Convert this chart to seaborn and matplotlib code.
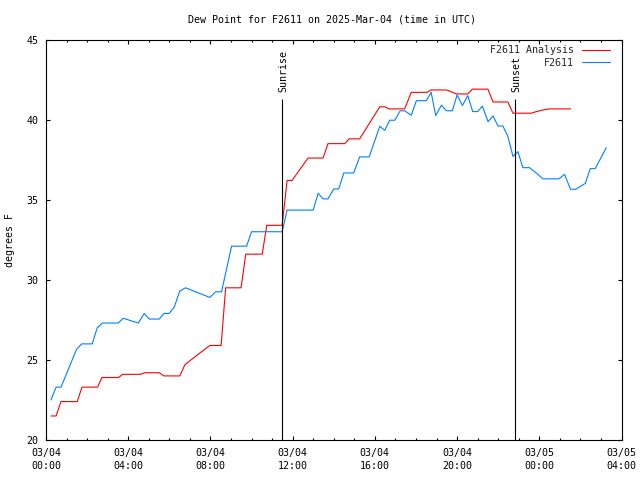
import matplotlib
matplotlib.use("Agg")
import matplotlib.pyplot as plt
import seaborn as sns
import pandas as pd
from matplotlib.ticker import MultipleLocator

# ---- data (hours since 2025-03-04 00:00 UTC) ----
analysis_hours = [0.24, 0.49, 0.73, 1.52, 1.75, 2.51, 2.72, 3.53, 3.73, 4.60,
                  4.80, 5.51, 5.74, 6.51, 6.76, 7.25, 7.97, 8.52, 8.74, 9.49,
                  9.72, 10.52, 10.74, 11.49, 11.73, 11.97, 12.75, 13.48, 13.72, 14.54,
                  14.74, 15.26, 16.24, 16.48, 16.69, 17.45, 17.77, 18.55, 18.72, 19.49,
                  19.97, 20.52, 20.74, 21.50, 21.75, 22.47, 22.72, 23.61, 23.86, 24.18,
                  24.50, 25.52]
analysis_dewpt = [21.5, 21.5, 22.4, 22.4, 23.3, 23.3, 23.9, 23.9, 24.1, 24.1,
                  24.2, 24.2, 24.0, 24.0, 24.7, 25.2, 25.9, 25.9, 29.5, 29.5,
                  31.6, 31.6, 33.4, 33.4, 36.2, 36.2, 37.6, 37.6, 38.5, 38.5,
                  38.8, 38.8, 40.8, 40.8, 40.67, 40.67, 41.7, 41.7, 41.85, 41.85,
                  41.6, 41.6, 41.9, 41.9, 41.1, 41.1, 40.4, 40.4, 40.5, 40.6,
                  40.67, 40.67]

obs_hours = [0.24, 0.49, 0.73, 1.49, 1.74, 2.25, 2.49, 2.74, 3.51, 3.76,
             4.49, 4.78, 5.02, 5.51, 5.74, 5.99, 6.24, 6.51, 6.79, 7.97,
             8.25, 8.54, 9.03, 9.76, 10.0, 11.49, 11.73, 13.0, 13.24, 13.48,
             13.72, 14.0, 14.24, 14.49, 14.97, 15.26, 15.72, 16.24, 16.48, 16.72,
             16.97, 17.23, 17.45, 17.77, 18.02, 18.5, 18.74, 18.96, 19.24, 19.48,
             19.77, 20.0, 20.26, 20.52, 20.76, 21.0, 21.23, 21.51, 21.75, 21.99,
             22.23, 22.47, 22.72, 22.96, 23.2, 23.53, 23.85, 24.18, 24.95, 25.23,
             25.52, 25.77, 26.24, 26.48, 26.72, 27.26]
obs_dewpt = [22.5, 23.3, 23.3, 25.67, 26.0, 26.0, 27.0, 27.3, 27.3, 27.6,
             27.3, 27.9, 27.55, 27.55, 27.9, 27.9, 28.3, 29.3, 29.5, 28.9,
             29.25, 29.25, 32.1, 32.1, 33.0, 33.0, 34.35, 34.35, 35.4, 35.05,
             35.05, 35.67, 35.67, 36.67, 36.67, 37.67, 37.67, 39.58, 39.33, 39.96,
             39.96, 40.55, 40.55, 40.27, 41.18, 41.18, 41.7, 40.25, 40.9, 40.55,
             40.55, 41.54, 40.88, 41.5, 40.5, 40.5, 40.84, 39.87, 40.23, 39.6,
             39.6, 38.96, 37.7, 38.0, 37.0, 37.0, 36.67, 36.3, 36.3, 36.58,
             35.65, 35.65, 36.02, 36.94, 36.94, 38.25]

series_names = ["F2611 Analysis", "F2611"]
series_colors = ["#ff0000", "#0080ff"]

x_tick_hours = [0, 4, 8, 12, 16, 20, 24, 28]
x_tick_labels = ["03/04\n00:00", "03/04\n04:00", "03/04\n08:00", "03/04\n12:00",
                 "03/04\n16:00", "03/04\n20:00", "03/05\n00:00", "03/05\n04:00"]
y_ticks = [20, 25, 30, 35, 40, 45]

sun_events = ["Sunrise", "Sunset"]
sun_hours = [11.49, 22.82]
sun_line_top = 41.3

title = "Dew Point for F2611 on 2025-Mar-04 (time in UTC)"
y_label = "degrees F"

# ---- build frame ----
df = pd.concat([
    pd.DataFrame({"hour": analysis_hours, "dewpt": analysis_dewpt, "series": series_names[0]}),
    pd.DataFrame({"hour": obs_hours, "dewpt": obs_dewpt, "series": series_names[1]}),
], ignore_index=True)

sns.set_theme(style="white")
FONT = ["DejaVu Sans Mono"]
plt.rcParams["font.family"] = FONT
FS = 7.2
LW = 0.8

fig = plt.figure(figsize=(6.4, 4.8), dpi=100)
ax = fig.add_axes([46 / 640, 1 - 440 / 480, (621.5 - 46) / 640, (440 - 39.5) / 480])

sns.lineplot(data=df, x="hour", y="dewpt", hue="series", hue_order=series_names,
             palette=dict(zip(series_names, series_colors)), estimator=None,
             linewidth=LW, ax=ax, legend=True)

for name, h in zip(sun_events, sun_hours):
    ax.vlines(h, 20, sun_line_top, color="black", linewidth=LW, zorder=3)
    ax.text(h + 0.05, sun_line_top + 0.45, name, rotation=90, ha="center", va="bottom",
            fontsize=FS, color="black")

ax.set_xlim(0, 28)
ax.set_ylim(20, 45)
ax.set_xticks(x_tick_hours)
ax.set_xticklabels(x_tick_labels, linespacing=1.45)
ax.xaxis.set_minor_locator(MultipleLocator(1))
ax.set_yticks(y_ticks)
ax.set_xlabel("")
ax.set_ylabel("")

for s in ax.spines.values():
    s.set_color("black")
    s.set_linewidth(LW)
    s.set_visible(True)

ax.tick_params(which="both", direction="in", top=True, right=True, bottom=True, left=True,
               color="black", width=LW, labelsize=FS, labelcolor="black")
ax.tick_params(which="major", length=3.0, pad=5.5)
ax.tick_params(which="minor", length=1.6)
ax.tick_params(axis="y", which="minor", left=False, right=False)

handles, labels = ax.get_legend_handles_labels()
leg = ax.legend(handles, labels, loc="upper right", bbox_to_anchor=(610 / 640, 1 - 45 / 480),
                bbox_transform=fig.transFigure, frameon=False, markerfirst=False,
                fontsize=FS, handlelength=2.8, handletextpad=0.8, labelspacing=0.25,
                borderpad=0, borderaxespad=0)

fig.text(332 / 640, 1 - 19 / 480, title, ha="center", va="center", fontsize=FS, color="black")
fig.text(10 / 640, 0.5, y_label, rotation=90, ha="center", va="center", fontsize=FS, color="black")

fig.savefig("out.png", dpi=100, facecolor="white")
